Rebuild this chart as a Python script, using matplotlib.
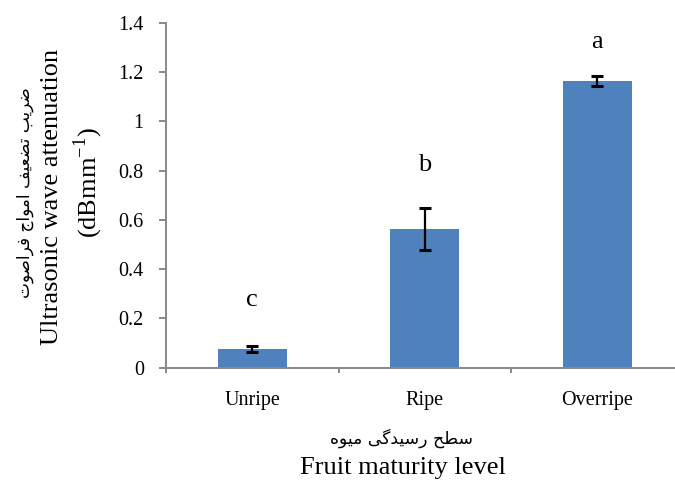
import matplotlib
matplotlib.use("Agg")
import matplotlib.pyplot as plt

# ---------------- data ----------------
categories = ["Unripe", "Ripe", "Overripe"]
values = [0.077, 0.564, 1.163]
errors = [0.013, 0.085, 0.020]
letters = ["c", "b", "a"]
letter_y = [0.275, 0.823, 1.324]
yticks = [0, 0.2, 0.4, 0.6, 0.8, 1, 1.2, 1.4]
ytick_labels = ["0", "0.2", "0.4", "0.6", "0.8", "1", "1.2", "1.4"]

ylabel_fa = "ضریب تضعیف امواج فراصوت"
ylabel_en1 = "Ultrasonic wave attenuation"
ylabel_en2 = "(dBmm$^{\\mathregular{-1}}$)"
xlabel_fa = "سطح رسیدگی میوه"
xlabel_en = "Fruit maturity level"

# ------------- minimal Persian shaping (presentation forms) -------------
FORMS = {
    'ا': ('\uFE8D', '\uFE8E', None, None),
    'ب': ('\uFE8F', '\uFE90', '\uFE91', '\uFE92'),
    'ت': ('\uFE95', '\uFE96', '\uFE97', '\uFE98'),
    'ج': ('\uFE9D', '\uFE9E', '\uFE9F', '\uFEA0'),
    'ح': ('\uFEA1', '\uFEA2', '\uFEA3', '\uFEA4'),
    'د': ('\uFEA9', '\uFEAA', None, None),
    'ر': ('\uFEAD', '\uFEAE', None, None),
    'س': ('\uFEB1', '\uFEB2', '\uFEB3', '\uFEB4'),
    'ص': ('\uFEB9', '\uFEBA', '\uFEBB', '\uFEBC'),
    'ض': ('\uFEBD', '\uFEBE', '\uFEBF', '\uFEC0'),
    'ط': ('\uFEC1', '\uFEC2', '\uFEC3', '\uFEC4'),
    'ع': ('\uFEC9', '\uFECA', '\uFECB', '\uFECC'),
    'ف': ('\uFED1', '\uFED2', '\uFED3', '\uFED4'),
    'م': ('\uFEE1', '\uFEE2', '\uFEE3', '\uFEE4'),
    'ه': ('\uFEE9', '\uFEEA', '\uFEEB', '\uFEEC'),
    'و': ('\uFEED', '\uFEEE', None, None),
    'ی': ('\uFBFC', '\uFBFD', '\uFBFE', '\uFBFF'),
    'گ': ('\uFB92', '\uFB93', '\uFB94', '\uFB95'),
}


def shape_fa(text):
    out = []
    for i, ch in enumerate(text):
        if ch not in FORMS:
            out.append(ch)
            continue
        prev = text[i - 1] if i > 0 else None
        nxt = text[i + 1] if i + 1 < len(text) else None
        jp = prev in FORMS and FORMS[prev][2] is not None
        jn = FORMS[ch][2] is not None and nxt in FORMS
        iso, fin, ini, med = FORMS[ch]
        if jp and jn:
            out.append(med)
        elif jp:
            out.append(fin)
        elif jn:
            out.append(ini)
        else:
            out.append(iso)
    return "".join(reversed(out))


plt.rcParams["font.family"] = ["Liberation Serif", "DejaVu Sans"]
plt.rcParams["mathtext.fontset"] = "custom"
plt.rcParams["mathtext.rm"] = "Liberation Serif"

W, H = 675, 482
fig = plt.figure(figsize=(W / 100, H / 100), dpi=100)
ax = fig.add_axes([166 / W, (H - 367.7) / H, (683.5 - 166) / W, 344.7 / H])

axis_col = "#888888"
x = list(range(len(categories)))
ax.bar(x, values, width=0.40, color="#4F81BD", zorder=2)
ax.errorbar(x, values, yerr=errors, fmt="none", ecolor="black",
            elinewidth=1.6, capsize=4.5, capthick=2.2, zorder=3)
for xi, lab, ly in zip(x, letters, letter_y):
    ax.text(xi, ly, lab, ha="center", va="center", fontsize=19)

ax.set_xlim(-0.5, 2.5)
ax.set_ylim(0, 1.4)
ax.set_yticks(yticks)
ax.set_yticklabels(ytick_labels, fontsize=14.5)
ax.set_xticks([-0.5, 0.5, 1.5, 2.5])
ax.set_xticklabels([])
ax.set_xticks(x, minor=True)
ax.set_xticklabels(categories, minor=True, fontsize=14.5)
ax.tick_params(axis="y", which="major", length=5, width=1.4, color=axis_col, pad=11)
ax.tick_params(axis="x", which="major", length=3.5, width=1.4, color=axis_col)
ax.tick_params(axis="x", which="minor", length=0, pad=17)
for s in ["top", "right"]:
    ax.spines[s].set_visible(False)
for s in ["left", "bottom"]:
    ax.spines[s].set_color(axis_col)
    ax.spines[s].set_linewidth(1.4)

# axis titles
fig.text(25 / W, 1 - 193 / H, shape_fa(ylabel_fa), rotation=90, ha="center",
         va="center", fontsize=12.2, family=["DejaVu Sans"])
fig.text(52 / W, 1 - 197 / H, ylabel_en1, rotation=90, ha="center",
         va="center", fontsize=19)
fig.text(88 / W, 1 - 183 / H, ylabel_en2, rotation=90, ha="center",
         va="center", fontsize=19)
fig.text(402 / W, 1 - 438 / H, shape_fa(xlabel_fa), ha="center",
         va="center", fontsize=12.4, family=["DejaVu Sans"])
fig.text(403 / W, 1 - 468 / H, xlabel_en, ha="center", va="center", fontsize=19)

fig.savefig("out.png", dpi=100)
